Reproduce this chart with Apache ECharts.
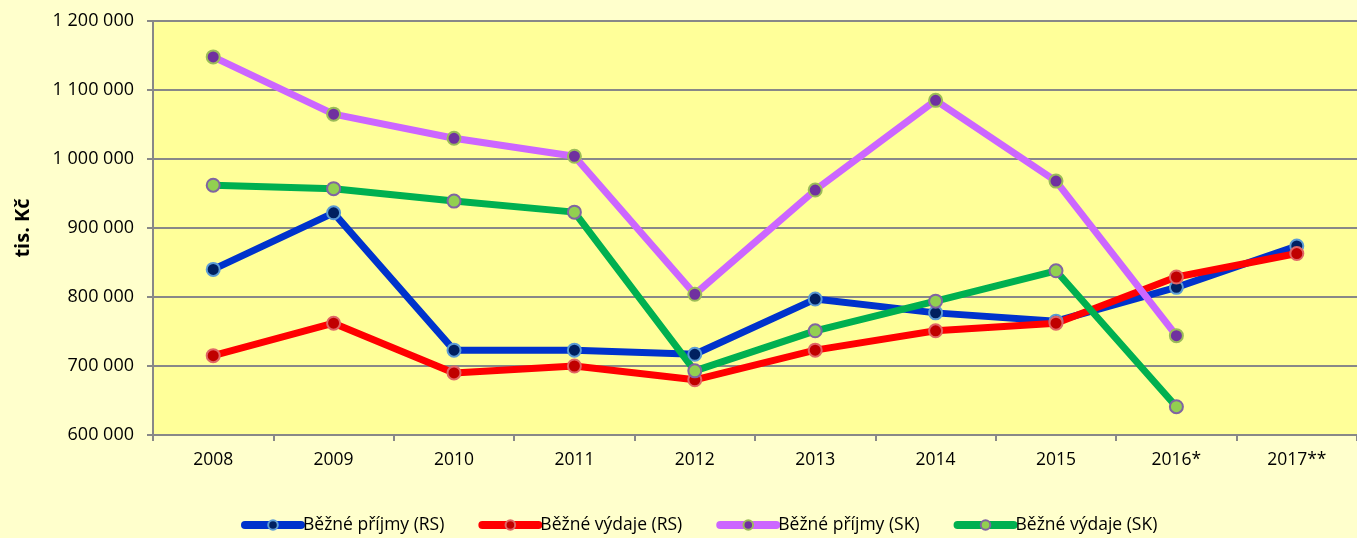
<!DOCTYPE html>
<html>
<head>
<meta charset="utf-8">
<script src="https://cdn.jsdelivr.net/npm/echarts@6/dist/echarts.min.js"></script>
<style>
  html, body { margin: 0; padding: 0; background: #FFFFCC; }
  #chart { width: 1357px; height: 538px; }
</style>
</head>
<body>
<div id="chart"></div>
<script>
var years = ['2008', '2009', '2010', '2011', '2012', '2013', '2014', '2015', '2016*', '2017**'];
var prijmyRS = [840000, 922000, 723000, 723000, 717000, 797000, 777000, 765000, 814000, 874000];
var vydajeRS = [715000, 762000, 690000, 700000, 680000, 723000, 751000, 762000, 829000, 863000];
var prijmySK = [1148000, 1065000, 1030000, 1004000, 804000, 955000, 1085000, 968000, 744000, null];
var vydajeSK = [962000, 957000, 939000, 923000, 693000, 751000, 794000, 838000, 641000, null];

var chart = echarts.init(document.getElementById('chart'));

// line colour, marker fill, marker border
function makeSeries(name, data, lineColor, fill, border) {
  return {
    name: name,
    type: 'line',
    data: data,
    symbol: 'circle',
    symbolSize: 13,
    lineStyle: { color: lineColor, width: 7 },
    itemStyle: { color: fill, borderColor: border, borderWidth: 2 },
    color: lineColor,
    z: 3
  };
}

chart.setOption({
  animation: false,
  backgroundColor: '#FFFFCC',
  textStyle: { fontFamily: 'Open Sans', color: '#000' },
  grid: {
    left: 153, right: 0, top: 21, bottom: 103,
    show: true, backgroundColor: '#FFFF99', borderWidth: 0
  },
  legend: {
    top: 511,
    left: 236,
    padding: [5, 5, 5, 5],
    itemWidth: 56,
    itemHeight: 12,
    itemGap: 34,
    lineStyle: { width: 8, cap: 'round' },
    textStyle: { fontSize: 17.5, color: '#000', fontFamily: 'Open Sans', padding: [0, 0, 0, -3] },
    data: ['Běžné příjmy (RS)', 'Běžné výdaje (RS)', 'Běžné příjmy (SK)', 'Běžné výdaje (SK)']
  },
  xAxis: {
    type: 'category',
    data: years,
    boundaryGap: true,
    axisLine: { lineStyle: { color: '#888', width: 2 } },
    axisTick: { show: true, length: 6, lineStyle: { color: '#888', width: 2 } },
    axisLabel: { fontSize: 17.5, color: '#000', margin: 16 }
  },
  yAxis: {
    type: 'value',
    min: 600000,
    max: 1200000,
    interval: 100000,
    name: 'tis. Kč',
    nameLocation: 'middle',
    nameGap: 120,
    nameRotate: 90,
    nameTextStyle: { fontSize: 20, fontWeight: 'bold', color: '#000' },
    axisLine: { show: true, lineStyle: { color: '#888', width: 2 } },
    axisTick: { show: true, length: 6, lineStyle: { color: '#888', width: 2 } },
    splitLine: { lineStyle: { color: '#888', width: 2 } },
    axisLabel: {
      fontSize: 18, color: '#000', margin: 19,
      formatter: function (v) {
        return String(v).replace(/\B(?=(\d{3})+(?!\d))/g, ' ');
      }
    }
  },
  series: [
    makeSeries('Běžné příjmy (RS)', prijmyRS, '#0033CC', '#002060', '#5B9BD5'),
    makeSeries('Běžné výdaje (RS)', vydajeRS, '#FF0000', '#C00000', '#E06666'),
    makeSeries('Běžné příjmy (SK)', prijmySK, '#CC66FF', '#7030A0', '#9BBB59'),
    makeSeries('Běžné výdaje (SK)', vydajeSK, '#00B050', '#92D050', '#8064A2')
  ]
});
</script>
</body>
</html>
